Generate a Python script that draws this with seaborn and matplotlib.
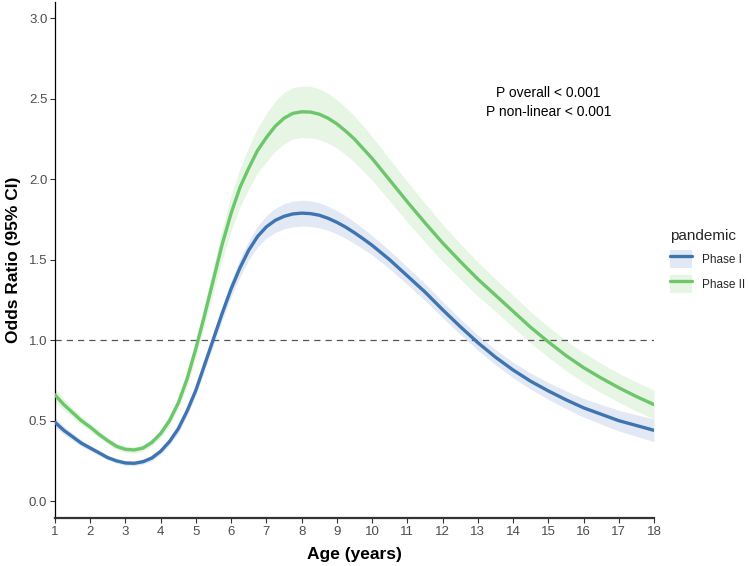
import numpy as np
import pandas as pd
import matplotlib
matplotlib.use("Agg")
import matplotlib.pyplot as plt
import seaborn as sns
from matplotlib.patches import Patch
from matplotlib.lines import Line2D

# ---- data ----
age = [1.0, 1.25, 1.5, 1.75, 2.0, 2.25, 2.5, 2.75, 3.0,
       3.25, 3.5, 3.75, 4.0, 4.25, 4.5, 4.75, 5.0,
       5.25, 5.5, 5.75, 6.0, 6.25, 6.5, 6.75, 7.0,
       7.25, 7.5, 7.75, 8.0, 8.25, 8.5, 8.75, 9.0,
       9.25, 9.5, 9.75, 10.0,
       10.5, 11.0, 11.5, 12.0, 12.5, 13.0, 13.5, 14.0,
       14.5, 15.0, 15.5, 16.0, 16.5, 17.0, 17.5, 18.0]

phase1_or = [0.49, 0.44, 0.40, 0.36, 0.33, 0.30, 0.27, 0.25, 0.237,
             0.235, 0.245, 0.268, 0.31, 0.37, 0.45, 0.56, 0.69,
             0.85, 1.01, 1.17, 1.32, 1.45, 1.56, 1.645, 1.705,
             1.745, 1.77, 1.785, 1.79, 1.787, 1.777, 1.758, 1.733,
             1.703, 1.668, 1.63, 1.59,
             1.50, 1.40, 1.30, 1.19, 1.085, 0.985, 0.895, 0.815,
             0.745, 0.685, 0.63, 0.58, 0.54, 0.50, 0.47, 0.44]
phase1_hw = [0.03, 0.025, 0.022, 0.02, 0.018, 0.016, 0.015, 0.015, 0.015,
             0.015, 0.016, 0.018, 0.02, 0.022, 0.025, 0.028, 0.03,
             0.035, 0.04, 0.045, 0.05, 0.055, 0.06, 0.065, 0.07,
             0.075, 0.078, 0.08, 0.08, 0.08, 0.078, 0.075, 0.072,
             0.07, 0.067, 0.064, 0.06,
             0.057, 0.054, 0.052, 0.05, 0.048, 0.047, 0.047, 0.048,
             0.05, 0.052, 0.055, 0.058, 0.061, 0.064, 0.067, 0.07]

phase2_or = [0.66, 0.60, 0.55, 0.50, 0.46, 0.415, 0.375, 0.34, 0.322,
             0.318, 0.33, 0.365, 0.42, 0.50, 0.61, 0.76, 0.95,
             1.16, 1.38, 1.60, 1.79, 1.95, 2.07, 2.18, 2.26,
             2.33, 2.38, 2.41, 2.42, 2.418, 2.405, 2.38, 2.345,
             2.30, 2.25, 2.19, 2.13,
             1.995, 1.86, 1.73, 1.605, 1.49, 1.38, 1.28, 1.18,
             1.08, 0.99, 0.905, 0.83, 0.765, 0.705, 0.65, 0.60]
phase2_hw = [0.04, 0.035, 0.03, 0.027, 0.025, 0.022, 0.02, 0.02, 0.02,
             0.02, 0.02, 0.022, 0.025, 0.03, 0.035, 0.045, 0.055,
             0.065, 0.08, 0.095, 0.11, 0.12, 0.13, 0.14, 0.15,
             0.155, 0.16, 0.16, 0.16, 0.16, 0.158, 0.155, 0.15,
             0.147, 0.143, 0.14, 0.135,
             0.13, 0.125, 0.12, 0.115, 0.11, 0.105, 0.10, 0.10,
             0.097, 0.095, 0.093, 0.092, 0.091, 0.09, 0.09, 0.09]

groups = ["Phase I", "Phase II"]
y_ticks = [0.0, 0.5, 1.0, 1.5, 2.0, 2.5, 3.0]
x_ticks = list(range(1, 19))
annot_lines = ["P overall < 0.001", "P non-linear < 0.001"]

# ---- styling ----
blue = "#3F74B3"
green = "#6CC66A"
blue_fill = "#E2E9F4"
green_fill = "#E7F5E5"
palette = {"Phase I": blue, "Phase II": green}

sns.set_theme(style="ticks")
plt.rcParams["font.family"] = ["Liberation Sans", "DejaVu Sans"]

df = pd.concat([
    pd.DataFrame({"age": age, "or": phase1_or, "hw": phase1_hw, "pandemic": groups[0]}),
    pd.DataFrame({"age": age, "or": phase2_or, "hw": phase2_hw, "pandemic": groups[1]}),
], ignore_index=True)
df["lo"] = df["or"] - df["hw"]
df["hi"] = df["or"] + df["hw"]

fig = plt.figure(figsize=(7.5, 5.66), dpi=100)
ax = fig.add_axes([0.0733, 0.0848, 0.7987, 0.911])

fills = {"Phase I": blue_fill, "Phase II": green_fill}
for g in ["Phase II", "Phase I"]:
    sub = df[df["pandemic"] == g]
    ax.fill_between(sub["age"], sub["lo"], sub["hi"], color=fills[g], lw=0, zorder=1)
ax.axhline(1.0, color="#555555", lw=0.9, ls=(0, (5, 4)), zorder=2)

sns.lineplot(data=df, x="age", y="or", hue="pandemic", palette=palette,
             linewidth=2.4, ax=ax, legend=False, zorder=3)

ax.set_xlim(1, 18)
ax.set_ylim(-0.105, 3.1)
ax.set_xticks(x_ticks)
ax.set_xticklabels([str(t) for t in x_ticks])
ax.set_yticks(y_ticks)
ax.set_yticklabels([f"{t:.1f}" for t in y_ticks])
ax.tick_params(axis="both", colors="#333333", labelcolor="#4D4D4D", labelsize=9.5,
               length=3.5, width=0.8, pad=2)
for s in ["top", "right"]:
    ax.spines[s].set_visible(False)
ax.spines["left"].set_color("black")
ax.spines["bottom"].set_color("#333333")
ax.spines["left"].set_linewidth(0.9)
ax.spines["bottom"].set_linewidth(1.6)

ax.set_xlabel("Age (years)", fontsize=12.5, fontweight="bold", color="black", labelpad=7)
ax.set_ylabel("Odds Ratio (95% CI)", fontsize=12.5, fontweight="bold", color="black", labelpad=6)

ax.text(15.0, 2.535, annot_lines[0], ha="center", va="center", fontsize=10, color="black")
ax.text(15.0, 2.42, annot_lines[1], ha="center", va="center", fontsize=10, color="black")

handles = [
    (Patch(facecolor=blue_fill, edgecolor="none"), Line2D([], [], color=blue, lw=2.4)),
    (Patch(facecolor=green_fill, edgecolor="none"), Line2D([], [], color=green, lw=2.4)),
]
leg = fig.legend(handles, groups, title="pandemic", loc="upper left",
                 bbox_to_anchor=(0.885, 0.605), frameon=False, fontsize=8.5,
                 title_fontsize=11, handlelength=1.9, handleheight=2.0,
                 handletextpad=0.8, labelspacing=0.55, borderpad=0)
leg._legend_box.align = "left"

fig.savefig("out.png", dpi=100)
